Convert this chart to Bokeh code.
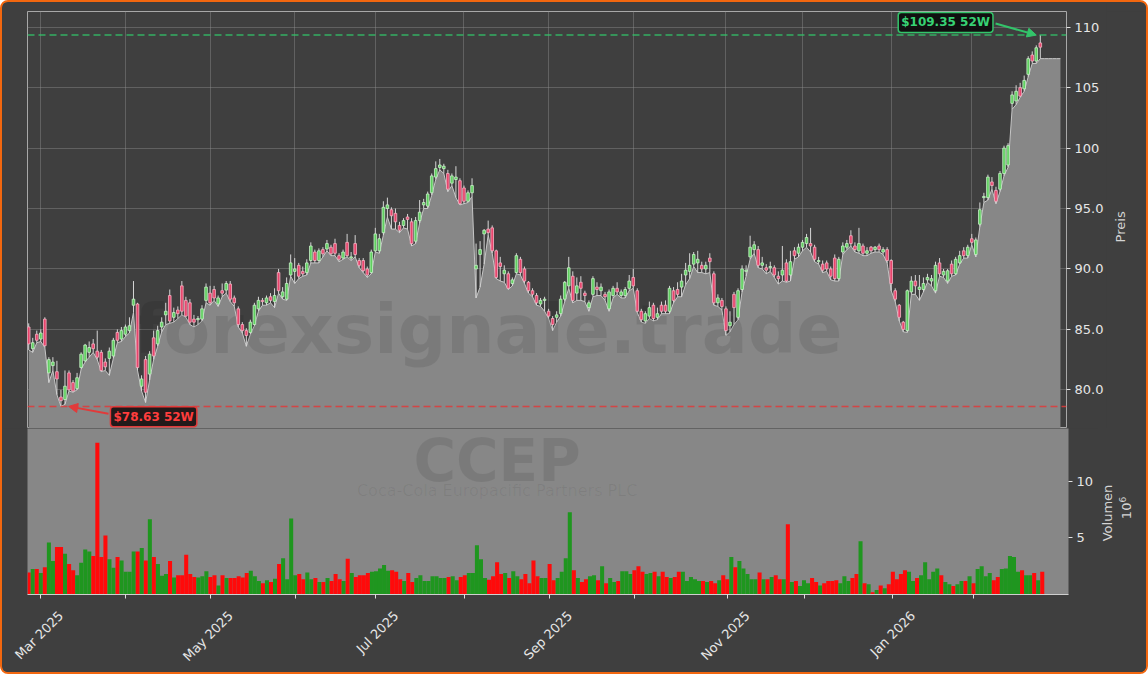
import math
from bokeh.plotting import figure
from bokeh.layouts import column, row
from bokeh.models import (Range1d, FixedTicker, Span, Label, Arrow, NormalHead,
                          ColumnDataSource, LinearAxis, Div)
from bokeh.core.properties import value
from bokeh.embed import file_html
from bokeh.resources import INLINE

# ---------------- data ----------------
ticker_symbol = "CCEP"
company_name = "Coca-Cola Europacific Partners PLC"
watermark = "forexsignale.trade"
price_title = "Preis"
volume_title = "Volumen"
volume_unit = "10⁶"

opens = [
    85.2, 83.4, 84.6, 84.2, 85.85, 81.4, 82.0, 81.5, 79.4, 79.2,
    81.4, 80.6, 80.1, 81.85, 82.4, 83.1, 83.8, 83.2, 83.1, 82.3,
    82.6, 82.8, 84.75, 84.2, 84.6, 84.9, 87.0, 87.1, 80.3, 82.5,
    81.3, 84.3, 83.8, 85.2, 86.2, 87.8, 86.0, 86.6, 88.6, 87.4,
    87.2, 85.85, 85.8, 85.85, 87.4, 88.0, 88.3, 87.1, 88.2, 88.25,
    88.75, 87.6, 86.7, 85.4, 84.9, 84.75, 85.4, 86.7, 87.4, 87.2,
    87.7, 87.3, 89.7, 87.7, 87.5, 89.5, 89.8, 90.3, 89.8, 89.7,
    90.7, 91.4, 90.7, 91.6, 91.65, 91.8, 92.1, 91.1, 90.9, 92.2,
    90.9, 92.1, 90.7, 90.7, 90.0, 89.7, 91.5, 91.5, 93.0, 95.0,
    94.9, 94.6, 93.6, 93.6, 94.3, 93.9, 92.3, 94.0, 95.3, 95.2,
    96.3, 97.6, 98.4, 98.3, 97.9, 97.1, 97.4, 97.3, 96.7, 95.6,
    96.3, 90.0, 91.2, 92.9, 93.3, 93.4, 91.5, 90.5, 89.6, 89.6,
    88.8, 89.7, 90.8, 90.0, 88.9, 88.2, 87.8, 87.1, 87.4, 86.5,
    85.9, 86.0, 86.3, 87.5, 88.6, 89.4, 88.0, 88.9, 88.0, 86.8,
    87.9, 88.5, 88.2, 87.9, 86.7, 87.8, 88.4, 87.8, 87.8, 88.4,
    89.3, 88.2, 86.5, 85.7, 86.1, 87.0, 86.0, 87.0, 87.0, 86.5,
    88.2, 88.3, 88.5, 89.5, 89.8, 90.4, 90.5, 90.3, 90.0, 90.9,
    89.6, 87.2, 87.4, 86.7, 85.3, 87.9, 86.0, 88.3, 89.8, 91.0,
    91.6, 91.6, 90.3, 90.1, 90.1, 90.1, 89.4, 89.5, 90.5, 89.5,
    91.5, 91.3, 91.8, 92.1, 92.1, 91.8, 90.6, 90.4, 90.5, 90.0,
    90.9, 89.2, 91.4, 91.8, 92.75, 91.9, 91.5, 91.9, 91.3, 91.8,
    91.6, 91.9, 91.4, 91.6, 90.7, 88.2, 87.0, 85.6, 84.9, 88.1,
    89.0, 88.3, 88.3, 89.1, 89.0, 88.2, 90.5, 89.5, 89.0, 90.4,
    89.6, 90.5, 91.5, 91.1, 92.5, 91.2, 93.7, 95.9, 95.9, 97.2,
    96.5, 96.6, 97.9, 98.6, 103.7, 103.9, 105.0, 104.9, 106.1, 107.7,
    107.2, 108.7,
]
highs = [
    85.5, 84.3, 84.9, 85.0, 86.0, 82.7, 82.7, 82.4, 80.0, 81.6,
    81.6, 80.8, 81.4, 83.1, 83.8, 84.0, 84.2, 84.9, 83.3, 82.6,
    83.5, 84.3, 85.0, 85.2, 85.4, 86.0, 89.0, 87.2, 81.2, 82.8,
    83.2, 84.9, 85.3, 86.0, 87.2, 88.3, 86.8, 86.9, 89.0, 87.7,
    87.5, 86.2, 86.1, 87.0, 88.8, 88.6, 88.6, 87.8, 88.8, 89.0,
    89.0, 87.8, 86.9, 85.6, 85.1, 85.8, 87.2, 87.7, 87.6, 87.8,
    88.0, 88.4, 90.0, 88.5, 89.3, 91.2, 90.9, 90.5, 90.2, 90.8,
    92.2, 91.6, 91.7, 91.8, 92.4, 92.0, 92.5, 91.3, 91.6, 92.9,
    91.4, 92.8, 90.9, 90.9, 90.2, 91.6, 93.4, 92.9, 95.6, 95.9,
    95.1, 95.0, 93.9, 94.2, 94.55, 94.2, 94.3, 95.7, 95.8, 96.4,
    97.9, 98.9, 99.1, 98.7, 98.2, 97.9, 98.5, 97.5, 96.9, 96.5,
    97.5, 92.1, 92.3, 93.3, 94.0, 93.6, 91.6, 91.0, 90.3, 89.8,
    89.3, 91.3, 91.0, 90.2, 89.0, 88.4, 88.0, 87.6, 87.7, 86.7,
    86.1, 86.5, 87.8, 89.0, 91.0, 89.8, 89.3, 89.4, 88.2, 87.4,
    89.4, 88.9, 88.8, 88.1, 88.3, 88.6, 88.9, 88.3, 88.5, 89.5,
    90.0, 88.4, 86.7, 86.5, 87.3, 87.2, 86.8, 87.3, 87.4, 88.6,
    88.5, 88.9, 89.6, 90.5, 91.3, 91.4, 91.5, 90.6, 90.6, 91.3,
    89.8, 87.9, 87.6, 86.9, 86.5, 88.1, 88.4, 90.3, 90.3, 92.75,
    92.3, 91.9, 91.0, 90.4, 90.6, 90.3, 89.8, 91.9, 90.8, 91.5,
    91.8, 92.1, 92.4, 92.9, 93.4, 92.0, 91.0, 90.7, 90.7, 90.2,
    91.2, 91.0, 92.2, 92.4, 93.2, 92.2, 93.4, 92.1, 91.8, 91.9,
    91.9, 92.1, 91.8, 91.8, 90.8, 88.4, 87.1, 85.7, 88.3, 89.4,
    89.5, 89.5, 89.3, 89.6, 89.5, 90.6, 90.9, 90.0, 90.0, 90.7,
    91.0, 91.5, 91.8, 92.0, 92.9, 92.6, 95.5, 96.3, 97.8, 97.6,
    96.8, 98.1, 100.2, 100.4, 104.7, 105.2, 105.4, 106.0, 107.6, 108.0,
    108.5, 109.35,
]
lows = [
    83.3, 83.1, 83.9, 84.0, 83.5, 80.6, 81.6, 79.6, 78.63, 78.8,
    79.9, 79.8, 80.0, 81.7, 82.3, 82.7, 83.1, 82.5, 81.5, 81.6,
    81.2, 82.6, 83.9, 84.0, 84.4, 84.7, 86.4, 81.6, 79.9, 78.95,
    80.8, 82.5, 83.6, 84.8, 85.4, 85.5, 85.6, 85.9, 86.2, 86.0,
    85.4, 85.2, 85.4, 85.7, 87.2, 87.0, 87.4, 86.9, 87.7, 88.0,
    87.3, 86.9, 85.2, 84.7, 83.6, 84.6, 85.3, 86.5, 87.0, 87.0,
    87.2, 86.8, 88.0, 87.5, 87.4, 89.4, 88.8, 89.2, 89.4, 89.5,
    90.5, 90.5, 90.5, 91.0, 91.5, 91.1, 91.1, 90.6, 90.8, 91.0,
    90.7, 91.0, 90.1, 89.7, 89.3, 89.6, 91.4, 91.3, 92.8, 94.3,
    93.3, 93.3, 93.0, 93.4, 93.3, 91.9, 92.1, 93.8, 95.0, 95.0,
    96.1, 97.4, 98.2, 97.9, 96.4, 96.9, 95.9, 95.3, 95.4, 95.5,
    96.0, 87.6, 88.5, 90.4, 92.8, 91.3, 89.2, 89.0, 88.9, 88.3,
    88.6, 89.6, 89.5, 88.8, 88.0, 87.7, 87.0, 86.9, 86.5, 85.9,
    84.9, 85.6, 86.1, 87.3, 88.4, 87.2, 87.4, 87.4, 87.3, 86.5,
    87.7, 87.8, 87.8, 87.4, 86.5, 87.6, 87.9, 87.6, 87.6, 88.2,
    88.4, 86.4, 85.6, 85.5, 85.9, 85.7, 85.8, 86.3, 86.3, 86.3,
    87.2, 87.7, 87.7, 88.7, 89.2, 90.2, 89.7, 89.7, 89.6, 89.7,
    87.0, 86.9, 86.6, 84.5, 84.8, 85.4, 85.8, 88.1, 89.4, 90.8,
    91.3, 90.1, 90.0, 89.6, 89.8, 89.3, 88.75, 89.0, 88.9, 89.0,
    90.8, 91.0, 91.5, 91.8, 91.4, 90.6, 90.4, 89.7, 89.8, 89.1,
    89.0, 89.0, 91.2, 91.6, 91.9, 91.4, 91.3, 91.1, 91.1, 91.3,
    91.4, 91.4, 91.2, 90.5, 88.2, 87.3, 85.7, 84.8, 84.75, 87.9,
    87.9, 87.4, 88.1, 88.9, 88.6, 88.0, 89.4, 89.3, 88.8, 89.4,
    89.5, 90.4, 90.9, 90.9, 92.0, 91.0, 93.5, 95.5, 95.7, 96.6,
    95.4, 96.4, 97.7, 98.4, 103.2, 103.6, 104.2, 104.7, 105.9, 107.0,
    107.0, 107.4,
]
closes = [
    83.8, 83.9, 84.1, 84.7, 83.65, 82.5, 82.3, 80.9, 79.1, 80.3,
    80.0, 79.9, 81.0, 82.95, 83.7, 83.5, 83.4, 82.7, 81.6, 81.9,
    83.2, 84.1, 84.1, 84.9, 85.2, 85.3, 87.5, 81.85, 80.9, 79.8,
    82.95, 82.8, 84.9, 85.6, 86.5, 85.7, 86.4, 86.3, 86.5, 86.1,
    85.6, 85.6, 85.9, 86.7, 88.5, 87.2, 87.6, 87.6, 88.0, 88.8,
    87.5, 87.2, 85.4, 84.9, 84.5, 85.6, 87.0, 87.4, 87.3, 87.6,
    87.4, 87.8, 88.2, 88.1, 88.8, 90.5, 90.0, 89.4, 89.6, 90.5,
    91.9, 90.7, 91.5, 91.25, 92.1, 91.25, 91.3, 90.8, 91.4, 91.1,
    91.0, 91.2, 90.3, 89.85, 89.5, 91.4, 92.9, 92.5, 95.1, 95.3,
    94.4, 93.9, 93.2, 94.0, 94.1, 92.1, 94.0, 94.7, 95.5, 96.2,
    97.7, 98.3, 98.6, 98.5, 96.6, 97.7, 97.6, 95.4, 95.6, 96.3,
    96.9, 90.3, 91.6, 93.2, 93.0, 91.5, 89.3, 90.2, 89.9, 88.4,
    89.1, 91.1, 89.7, 89.0, 88.2, 87.9, 87.2, 87.4, 87.5, 86.1,
    85.4, 86.2, 87.5, 88.9, 90.1, 87.4, 88.6, 88.4, 87.8, 87.2,
    89.2, 88.3, 88.5, 87.7, 88.1, 88.4, 88.1, 88.1, 88.3, 89.0,
    88.6, 86.5, 85.8, 86.3, 86.8, 85.9, 86.3, 86.5, 86.5, 88.4,
    87.4, 87.9, 89.0, 89.9, 90.3, 91.2, 90.8, 90.0, 90.3, 90.6,
    87.2, 87.6, 86.9, 84.9, 85.6, 86.8, 88.2, 90.0, 89.9, 91.8,
    92.0, 90.3, 90.5, 89.9, 90.2, 89.5, 89.2, 89.9, 89.0, 90.6,
    91.1, 91.8, 92.2, 92.6, 91.9, 90.8, 90.7, 89.9, 90.0, 89.4,
    89.2, 90.8, 91.9, 92.1, 92.1, 91.6, 92.1, 91.3, 91.5, 91.5,
    91.8, 91.6, 91.6, 90.7, 88.8, 87.5, 86.0, 85.0, 88.2, 89.0,
    88.6, 88.5, 88.8, 89.3, 89.2, 90.3, 89.6, 89.8, 89.85, 89.6,
    90.8, 91.1, 91.1, 91.8, 92.2, 92.4, 94.9, 96.0, 97.6, 96.9,
    95.6, 97.9, 100.0, 100.2, 104.4, 104.7, 104.3, 105.6, 107.4, 107.2,
    108.3, 108.35,
]
volumes_m = [  # millions of shares
    1.94, 2.24, 2.24, 1.9, 2.4, 4.6, 2.95, 4.2, 4.2, 3.6,
    2.7, 2.15, 1.7, 2.8, 3.97, 3.8, 3.4, 13.4, 3.3, 5.2,
    3.1, 2.35, 3.3, 3.0, 2.0, 2.0, 3.8, 3.8, 4.1, 3.0,
    6.65, 3.3, 2.7, 1.65, 1.8, 2.95, 1.5, 1.7, 1.7, 3.5,
    1.8, 1.55, 1.5, 1.6, 2.05, 1.55, 1.7, 0.8, 1.7, 1.45,
    1.45, 1.45, 1.6, 1.5, 1.9, 2.1, 1.6, 1.2, 1.0, 1.25,
    1.1, 1.4, 2.7, 3.2, 1.35, 6.7, 1.7, 1.8, 1.35, 1.95,
    1.35, 1.45, 1.1, 1.1, 1.45, 1.2, 1.8, 1.35, 1.2, 3.15,
    1.9, 1.55, 1.7, 1.7, 1.9, 2.0, 2.05, 2.3, 2.6, 2.1,
    2.15, 2.0, 1.35, 1.2, 1.9, 1.1, 1.45, 1.7, 1.2, 1.2,
    1.6, 1.6, 1.45, 1.45, 1.55, 1.6, 1.25, 1.55, 1.7, 1.9,
    1.9, 4.35, 3.1, 1.45, 1.3, 1.6, 2.85, 1.8, 1.9, 1.45,
    2.05, 1.6, 1.35, 1.8, 1.0, 3.0, 1.6, 1.45, 1.45, 2.7,
    1.25, 1.45, 2.0, 3.2, 7.25, 2.15, 1.45, 1.1, 1.35, 1.6,
    1.7, 1.25, 2.5, 1.0, 1.45, 1.1, 1.2, 2.05, 2.05, 1.8,
    2.15, 2.5, 2.0, 1.8, 1.9, 2.0, 1.6, 2.0, 1.55, 1.45,
    1.55, 2.0, 2.0, 1.2, 1.55, 1.35, 1.2, 1.2, 1.1, 1.2,
    1.0, 1.25, 1.7, 1.35, 3.3, 2.4, 2.95, 2.3, 1.8, 1.35,
    1.35, 1.95, 1.35, 1.35, 1.55, 1.7, 1.35, 1.35, 6.2, 1.1,
    1.2, 0.75, 1.25, 1.0, 1.45, 1.1, 0.8, 1.0, 1.2, 1.2,
    1.25, 1.0, 1.6, 1.2, 1.45, 1.8, 4.7, 1.0, 0.9, 0.2,
    0.4, 0.8, 0.55, 0.9, 2.0, 1.35, 1.8, 2.15, 2.0, 1.2,
    1.45, 1.7, 2.85, 1.35, 2.0, 2.3, 1.7, 1.1, 0.9, 0.75,
    0.9, 1.2, 1.2, 1.6, 1.0, 2.25, 2.5, 1.6, 1.9, 1.25,
    1.55, 2.25, 2.3, 3.4, 3.3, 2.0, 2.15, 1.7, 1.7, 1.9,
    1.25, 2.0,
]
month_ticks = [3, 24, 45, 66, 86, 108, 129, 150, 173, 192, 214, 234]
month_labels = ["Mar 2025", "", "May 2025", "", "Jul 2025", "", "Sep 2025", "",
                "Nov 2025", "", "Jan 2026", ""]
price_ticks = [80, 85, 90, 95, 100, 105, 110]
price_tick_labels = ["80.0", "85.0", "90.0", "95.0", "100", "105", "110"]
volume_ticks = [5, 10]
volume_tick_labels = ["5", "10"]

# ---------------- styling ----------------
FONT = "DejaVu Sans"
BG = "#3f3f3f"
PANEL = "#878787"
UP_BODY, UP_EDGE = "#5fcf5f", "#c9f2c9"
DN_BODY, DN_EDGE = "#e8446c", "#f6b4c4"
WICK = "#d6d6d6"
VOL_UP, VOL_DN = "#1f961f", "#ff0a0a"
HI_COL, LO_COL = "#33c46a", "#e23a3a"
TXT = "#e6e6e6"
TITLE_COL = "#d4d4d4"
LABEL_SHIFT = 5  # rotated month labels are centred on their tick

n = len(closes)
idx = list(range(n))
is_up = [c >= o for o, c in zip(opens, closes)]
src = ColumnDataSource(dict(
    x=idx, high=highs, low=lows,
    top=[max(o, c) for o, c in zip(opens, closes)],
    bottom=[min(o, c) for o, c in zip(opens, closes)],
    body=[UP_BODY if u else DN_BODY for u in is_up],
    edge=[UP_EDGE if u else DN_EDGE for u in is_up],
    vol=volumes_m,
    vcol=[VOL_UP if u else VOL_DN for u in is_up],
))

area_pad = 5
area_x = idx + list(range(n, n + area_pad))
area_low = lows + [lows[-1]] * area_pad

x_range = Range1d(-0.3, n - 1 + 6.5)
price_range = Range1d(76.8, 111.3)
vol_range = Range1d(0, 14.65)


def style_right_axis(ax, ticks, labels):
    ax.ticker = FixedTicker(ticks=ticks)
    ax.major_label_overrides = {t: s for t, s in zip(ticks, labels)}
    ax.axis_line_color = None
    ax.major_tick_line_color = "#e0e0e0"
    ax.major_tick_out = 4
    ax.major_tick_in = 0
    ax.minor_tick_line_color = None
    ax.major_label_text_color = TXT
    ax.major_label_text_font = FONT
    ax.major_label_text_font_size = "13px"
    ax.major_label_standoff = 4


def title_strip(width, height, items):
    """Narrow figure that holds vertical axis titles (reading bottom-to-top)."""
    t = figure(width=width, height=height, x_range=Range1d(0, width), y_range=Range1d(0, height),
               x_axis_location=None, y_axis_location=None,
               output_backend="svg", toolbar_location=None,
               min_border_left=0, min_border_right=0, min_border_top=0, min_border_bottom=0,
               background_fill_color=BG, border_fill_color=BG)
    t.outline_line_color = None
    t.grid.visible = False
    for text, x, y in items:
        t.text(x=[x], y=[y], text=[text], angle=math.pi / 2,
               text_align="center", text_baseline="middle",
               text_font=value(FONT), text_font_size="13px", text_color=TITLE_COL)
    return t


# ---------------- price panel ----------------
p1 = figure(width=1104, height=426, x_range=x_range, y_range=price_range,
            x_axis_location=None, y_axis_location="right",
            output_backend="svg", toolbar_location=None,
            min_border_left=25, min_border_right=38, min_border_top=9, min_border_bottom=0,
            background_fill_color=BG, border_fill_color=BG)
p1.outline_line_color = "#a8a8a8"
p1.outline_line_width = 1

month_ticker = FixedTicker(ticks=month_ticks)
p1.xgrid.ticker = month_ticker
p1.ygrid.ticker = FixedTicker(ticks=price_ticks)
for g in (p1.xgrid, p1.ygrid):
    g.grid_line_color = "#8c8c8c"
    g.grid_line_alpha = 0.45

style_right_axis(p1.yaxis[0], price_ticks, price_tick_labels)

p1.varea(x=area_x, y1=price_range.start, y2=area_low, fill_color=PANEL)
p1.line(x=area_x, y=area_low, line_color="#c6c6c6", line_width=1)

p1.text(x=[114], y=[85.0], text=[watermark], text_font=value(FONT),
        text_font_style="bold", text_font_size="68px", text_color="#000000",
        text_alpha=0.09, text_align="center", text_baseline="alphabetic")

p1.segment(x0="x", y0="low", x1="x", y1="high", source=src,
           line_color=WICK, line_width=1)
p1.vbar(x="x", width=0.65, top="top", bottom="bottom", source=src,
        fill_color="body", line_color="edge", line_width=0.8)

hi_val = max(highs)
lo_val = min(lows)
i_hi = highs.index(hi_val)
i_lo = lows.index(lo_val)

p1.add_layout(Span(location=hi_val, dimension="width", line_color=HI_COL,
                   line_dash="7 4", line_width=1.5, line_alpha=0.85))
p1.add_layout(Span(location=lo_val, dimension="width", line_color=LO_COL,
                   line_dash="7 4", line_width=1.5, line_alpha=0.85))

p1.add_layout(Arrow(end=NormalHead(size=9, fill_color=HI_COL, line_color=HI_COL),
                    x_start=i_hi - 11.1, y_start=hi_val + 0.96,
                    x_end=i_hi - 1.0, y_end=hi_val,
                    line_color=HI_COL, line_width=2))
p1.add_layout(Arrow(end=NormalHead(size=9, fill_color=LO_COL, line_color=LO_COL),
                    x_start=i_lo + 11.8, y_start=lo_val - 0.61,
                    x_end=i_lo + 1.9, y_end=lo_val,
                    line_color=LO_COL, line_width=2))

p1.add_layout(Label(x=i_hi - 23.5, y=hi_val + 1.04, text=f"${hi_val:.2f} 52W",
                    text_align="center", text_baseline="middle",
                    text_font=FONT, text_font_style="bold", text_font_size="12px",
                    text_color="#37d274", background_fill_color="#0c0c0c",
                    background_fill_alpha=0.92, border_line_color=HI_COL,
                    border_line_width=1.5, padding=3, border_radius=3))
p1.add_layout(Label(x=i_lo + 23.0, y=lo_val - 0.86, text=f"${lo_val:.2f} 52W",
                    text_align="center", text_baseline="middle",
                    text_font=FONT, text_font_style="bold", text_font_size="12px",
                    text_color="#ff3d3d", background_fill_color="#1a1010",
                    background_fill_alpha=0.92, border_line_color=LO_COL,
                    border_line_width=1.5, padding=3, border_radius=3))

t1 = title_strip(40, 426, [(price_title, 14, 206)])

# ---------------- volume panel ----------------
p2 = figure(width=1096, height=244, x_range=x_range, y_range=vol_range,
            y_axis_location="right", output_backend="svg", toolbar_location=None,
            min_border_left=25, min_border_right=30, min_border_top=0, min_border_bottom=78,
            background_fill_color=PANEL, border_fill_color=BG)
p2.outline_line_color = None
p2.xgrid.visible = False
p2.ygrid.visible = False

p2.text(x=[116], y=[11.8], text=[ticker_symbol], text_font=value(FONT),
        text_font_style="bold", text_font_size="58px", text_color="#000000",
        text_alpha=0.09, text_align="center", text_baseline="alphabetic")
p2.text(x=[116], y=[9.2], text=[company_name], text_font=value(FONT),
        text_font_size="16px", text_color="#000000",
        text_alpha=0.06, text_align="center", text_baseline="alphabetic")

p2.vbar(x="x", width=1.0, top="vol", bottom=0, source=src,
        fill_color="vcol", line_color=None)

# axis 1: month tick marks (no text)
xa = p2.xaxis[0]
xa.ticker = month_ticker
xa.major_label_overrides = {t: "" for t in month_ticks}
xa.major_label_text_font_size = "0px"
xa.major_label_standoff = 0
xa.axis_line_color = "#cfcfcf"
xa.major_tick_line_color = "#e0e0e0"
xa.major_tick_out = 4
xa.major_tick_in = 0
xa.minor_tick_line_color = None

# axis 2: rotated month names, centred below their ticks
lab_ticks = [t + LABEL_SHIFT for t, s in zip(month_ticks, month_labels) if s]
lab_names = [s for s in month_labels if s]
xl = LinearAxis(ticker=FixedTicker(ticks=lab_ticks),
                major_label_overrides={t: s for t, s in zip(lab_ticks, lab_names)},
                major_label_orientation=math.pi / 4,
                axis_line_color=None, major_tick_line_color=None,
                major_tick_out=0, major_tick_in=0, minor_tick_line_color=None,
                major_label_text_color=TXT, major_label_text_font=FONT,
                major_label_text_font_size="13px", major_label_standoff=15)
p2.add_layout(xl, "below")

style_right_axis(p2.yaxis[0], volume_ticks, volume_tick_labels)

# vertical titles of the volume axis (HTML text, rotated to read bottom-to-top)
span_css = ("position:absolute;transform:translate(-50%,-50%) rotate(-90deg);"
            "white-space:nowrap;line-height:1;")
vol_titles_html = (
    f'<div style="position:relative;width:48px;height:244px;background:{BG};'
    f'font-family:\'DejaVu Sans\';font-size:13px;color:{TITLE_COL};">'
    f'<span style="{span_css}left:9px;top:85px;">{volume_title}</span>'
    f'<span style="{span_css}left:28px;top:80px;">10<sup style="font-size:9px;">6</sup></span>'
    '</div>'
)
t2 = Div(text=vol_titles_html, width=48, height=244, margin=0,
         styles={"background-color": BG, "overflow": "hidden"})

layout = column(row(p1, t1), row(p2, t2), styles={
    "border": "2px solid #f2670f", "border-radius": "8px",
    "overflow": "hidden", "background-color": BG,
})

open("out.html", "w").write(file_html(layout, INLINE, title="CCEP"))
